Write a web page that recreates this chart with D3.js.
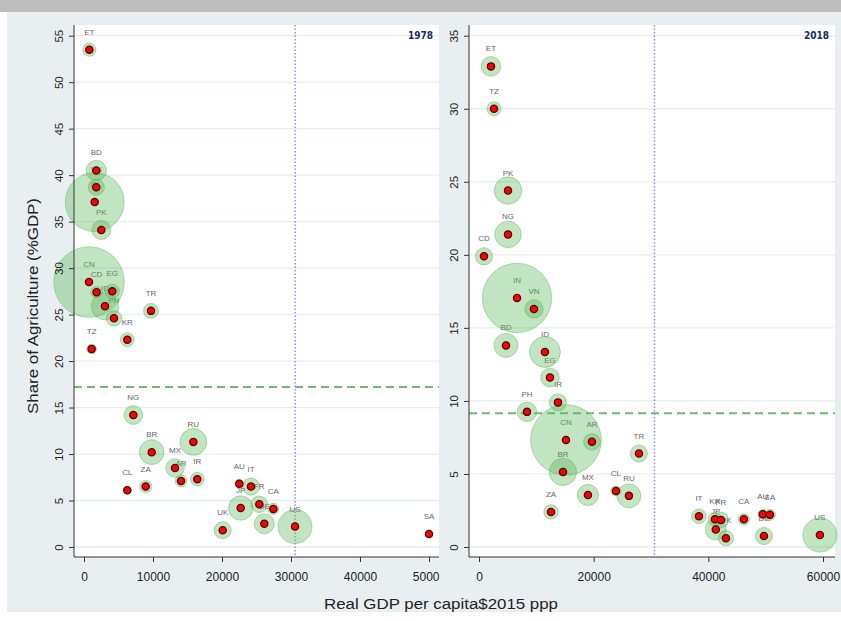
<!DOCTYPE html>
<html><head><meta charset="utf-8">
<script src="https://cdn.jsdelivr.net/npm/d3@7"></script>
<style>body{margin:0;background:#fff}svg{display:block}</style>
</head><body><svg id="c" width="841" height="621"></svg>
<script>
// ---- 1978 panel data ----
const codes78 = ["ET","BD","VN","IN","PK","CN","CD","EG","ID","PH","KR","TR","TZ","NG","BR","RU","MX","AR","IR","CL","ZA","AU","IT","FR","JP","CA","DE","UK","US","SA"];
const gdp78   = [770,1780,1780,1550,2510,725,1830,4100,3040,4350,6280,9710,1110,7150,9810,15850,13190,14060,16420,6280,8940,22510,24200,25410,22710,27440,26130,20100,30580,50000];
const agr78   = [53.5,40.5,38.7,37.1,34.1,28.5,27.4,27.5,25.9,24.6,22.3,25.4,21.3,14.2,10.2,11.3,8.5,7.1,7.3,6.1,6.5,6.8,6.5,4.6,4.2,4.1,2.5,1.8,2.2,1.4];
const pop78   = [34,80,51,670,70,960,25,40,145,46,37,43,18,68,118,138,66,27,36,11,29,14,56,53,115,24,78,56,222,9];
// ---- 2018 panel data ----
const codes18 = ["ET","TZ","PK","NG","CD","IN","VN","BD","ID","EG","IR","PH","CN","AR","BR","TR","ZA","MX","CL","RU","IT","KR","FR","JP","UK","CA","AU","SA","DE","US"];
const gdp18   = [2090,2620,5060,5060,870,6630,9590,4710,11500,12380,13770,8370,15170,19700,14650,27900,12560,19000,23890,26150,38360,41150,42200,41300,43070,46200,49500,50740,49700,59460];
const agr18   = [32.9,30.0,24.4,21.4,19.9,17.05,16.3,13.8,13.35,11.6,9.9,9.25,7.33,7.2,5.14,6.4,2.4,3.56,3.84,3.5,2.1,1.9,1.85,1.2,0.6,1.9,2.25,2.2,0.75,0.82];
const pop18   = [109,56,212,196,84,1353,95,161,268,98,82,107,1400,80,209,82,58,126,28,160,60,51,67,126,66,37,25,34,83,327];
// ---- axes ----
const xTicks78 = [0,10000,20000,30000,40000,50000];
const yTicks78 = [0,5,10,15,20,25,30,35,40,45,50,55];
const xTicks18 = [0,20000,40000,60000];
const yTicks18 = [0,5,10,15,20,25,30,35];
const meanAgr78 = 17.2, meanAgr18 = 9.15, refGdp = 30600;

const svg = d3.select("#c");
const FONT = "'Liberation Sans', Arial, sans-serif";
svg.append("rect").attr("x",0).attr("y",0).attr("width",841).attr("height",12).attr("fill","#bdbdbd");
svg.append("rect").attr("x",7).attr("y",12).attr("width",834).attr("height",600).attr("fill","#e9eff1");

svg.append("defs").append("clipPath").attr("id","clipL")
  .append("rect").attr("x",0).attr("y",0).attr("width",439.5).attr("height",621);

function panel(o){
  const g = svg.append("g");
  if (o.clip) g.attr("clip-path","url(#"+o.clip+")");
  const {x0,x1,y0,y1} = o.box;
  const x = d3.scaleLinear().domain(o.xDom).range(o.xRange);
  const y = d3.scaleLinear().domain(o.yDom).range(o.yRange);
  const r = d3.scaleSqrt().domain([0, d3.max(o.pop)]).range([0, 35.3]);
  g.append("rect").attr("x",x0).attr("y",y0).attr("width",x1-x0).attr("height",y1-y0).attr("fill","#fff");
  g.selectAll("line.grid").data(o.yTicks).join("line").attr("class","grid")
    .attr("x1",x0).attr("x2",x1).attr("y1",d=>y(d)).attr("y2",d=>y(d))
    .attr("stroke","#e6eef0").attr("stroke-width",1.3);
  const data = o.codes.map((c,i)=>({c, gx:o.gdp[i], ay:o.agr[i], p:o.pop[i]}));
  // labels
  g.selectAll("text.lab").data(data).join("text").attr("class","lab")
    .attr("x",d=>x(d.gx)).attr("y",d=>y(d.ay)-15)
    .attr("text-anchor","middle").attr("font-family",FONT).attr("font-size",8)
    .attr("fill","#666").text(d=>d.c);
  // reference lines
  g.append("line").attr("x1",x0).attr("x2",x1).attr("y1",y(o.mean)).attr("y2",y(o.mean))
    .attr("stroke","#6dbb6d").attr("stroke-width",2).attr("stroke-dasharray","8,5");
  g.append("line").attr("x1",x(refGdp)).attr("x2",x(refGdp)).attr("y1",y0).attr("y2",y1)
    .attr("stroke","#8a8aff").attr("stroke-width",1.5).attr("stroke-dasharray","1.5,2");
  // bubbles
  g.selectAll("circle.bub").data(data).join("circle").attr("class","bub")
    .attr("cx",d=>x(d.gx)).attr("cy",d=>y(d.ay)).attr("r",d=>r(d.p))
    .attr("fill","#5cb85c").attr("fill-opacity",0.38)
    .attr("stroke","#5cb85c").attr("stroke-opacity",0.45).attr("stroke-width",1);
  // dots
  g.selectAll("circle.dot").data(data).join("circle").attr("class","dot")
    .attr("cx",d=>x(d.gx)).attr("cy",d=>y(d.ay)).attr("r",3.6)
    .attr("fill","#ff0000").attr("stroke","#5a0000").attr("stroke-width",1.3);
  // axes
  g.append("line").attr("x1",x0).attr("x2",x0).attr("y1",y0).attr("y2",y1).attr("stroke","#333");
  g.append("line").attr("x1",x0).attr("x2",x1).attr("y1",y1).attr("y2",y1).attr("stroke","#333");
  const ya = g.append("g").attr("transform",`translate(${x0},0)`)
    .call(d3.axisLeft(y).tickValues(o.yTicks).tickSize(5).tickFormat(d3.format("d")));
  ya.select(".domain").remove();
  ya.selectAll("line").attr("stroke","#333");
  ya.selectAll("text").attr("transform","rotate(-90)").attr("x",0).attr("y",-11).attr("dy",0)
    .attr("text-anchor","middle").attr("font-family",FONT).attr("font-size",11.5).attr("fill","#222");
  const xa = g.append("g").attr("transform",`translate(0,${y1})`)
    .call(d3.axisBottom(x).tickValues(o.xTicks).tickSize(5).tickPadding(10).tickFormat(d3.format("d")));
  xa.select(".domain").remove();
  xa.selectAll("line").attr("stroke","#333");
  xa.selectAll("text").attr("font-family",FONT).attr("font-size",12).attr("fill","#222");
  g.append("text").attr("x",x1-6).attr("y",y0+14).attr("text-anchor","end")
    .attr("font-family","'Liberation Sans Narrow','DejaVu Sans Condensed',Arial,sans-serif")
    .attr("font-weight","bold").attr("font-size",10).attr("fill","#1a2b60").text(o.year);
}

panel({box:{x0:74,x1:439,y0:25,y1:557}, xDom:[0,50000], xRange:[84,429], yDom:[0,55], yRange:[547,35.7],
  codes:codes78, gdp:gdp78, agr:agr78, pop:pop78, xTicks:xTicks78, yTicks:yTicks78,
  mean:meanAgr78, year:"1978", clip:"clipL"});
panel({box:{x0:469,x1:835,y0:25,y1:557}, xDom:[0,60000], xRange:[479,823], yDom:[0,35], yRange:[547,35.7],
  codes:codes18, gdp:gdp18, agr:agr18, pop:pop18, xTicks:xTicks18, yTicks:yTicks18,
  mean:meanAgr18, year:"2018"});

svg.append("text").attr("transform","translate(38,306) rotate(-90)").attr("text-anchor","middle")
  .attr("font-family",FONT).attr("font-size",15).attr("textLength",216).attr("lengthAdjust","spacingAndGlyphs")
  .attr("fill","#222").text("Share of Agriculture (%GDP)");
svg.append("text").attr("x",441).attr("y",609).attr("text-anchor","middle")
  .attr("font-family",FONT).attr("font-size",15.5).attr("textLength",234).attr("lengthAdjust","spacingAndGlyphs")
  .attr("fill","#222").text("Real GDP per capita$2015 ppp");
</script></body></html>
